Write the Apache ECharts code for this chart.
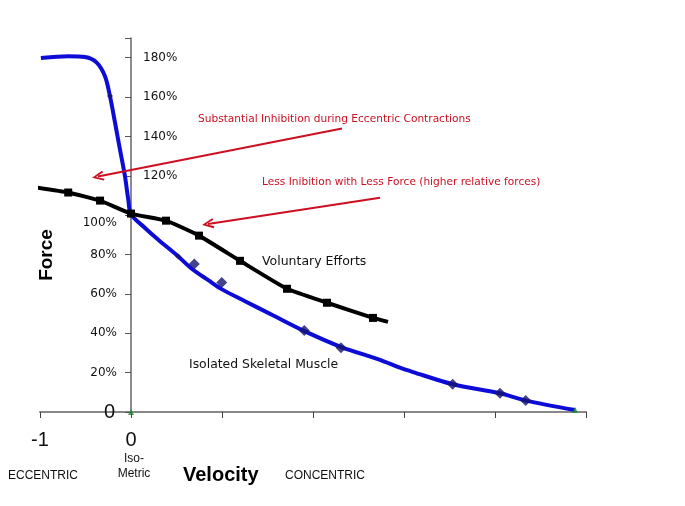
<!DOCTYPE html>
<html><head><meta charset="utf-8">
<script src="https://cdn.jsdelivr.net/npm/echarts@6/dist/echarts.min.js"></script>
<style>html,body{margin:0;padding:0;background:#fff}#c{width:685px;height:506px}</style>
</head><body><div id="c"></div>
<script>
// Isolated skeletal muscle (blue) curve: velocity (x), force % (y)
const muscleX = [-0.99,-0.69,-0.505,-0.377,-0.286,-0.231,-0.176,-0.121,-0.066,-0.030,0,0.154,0.30,0.52,0.667,0.849,1.0,1.253,1.564,1.9,2.31,2.736,2.956,3.099,3.535,4.055,4.337,4.88];
const muscleY = [179.8,180.7,180.3,177.5,170.6,160.5,147.1,133.3,119.7,107.9,100.5,93.5,87.5,79.0,72.8,67.0,62.3,56.3,49.0,41.2,33.0,26.5,22.5,20.3,14.1,9.5,5.8,1];
// Diamond markers on the muscle curve
const diamondX = [0.696,0.997,1.904,2.308,3.535,4.055,4.337];
const diamondY = [75.2,65.8,41.4,32.7,14.1,9.5,5.8];
// Small tick marks on the muscle curve
const smallX = [-0.231,0.52];
const smallY = [160.5,79.0];
// Voluntary efforts (black)
const volX = [-1.03,-0.69,-0.34,0,0.385,0.747,1.198,1.714,2.154,2.659,2.824];
const volY = [114.0,111.5,107.4,100.8,97.2,89.6,76.8,62.6,55.5,47.8,45.8];
// Green end marks
const greenX = [0,4.88];
const greenY = [0,1];
// Annotation arrows [tailX, tailY, headX, headY]
const arrow1 = [2.319,144.0,-0.363,119.6];
const arrow2 = [2.736,108.9,0.846,95.5];
// Axis tick labels
const yLeftTicks = {0:'{z|0}',20:'20%',40:'40%',60:'60%',80:'80%',100:'{h|100%}'};
const yRightTicks = {120:'120%',140:'140%',160:'160%',180:'180%'};
const xTicks = {'-1':'-1','0':'0'};

const zip = (a,b)=>a.map((v,i)=>[v,b[i]]);
const chart = echarts.init(document.getElementById('c'), null, {renderer:'canvas'});
const arrowHead = 'path://M5,0 L10,11 L8.3,12 L5,4 L1.7,12 L0,11 Z';
const red = '#cc1022';
const font = '"DejaVu Sans", Verdana, sans-serif';
const gridLeft = 40, gridRight = 99, W = 685;
const xMin = -1, xMax = 5;
const zeroShift = (0 - xMin) / (xMax - xMin) * (W - gridLeft - gridRight);
chart.setOption({
  animation:false,
  backgroundColor:'#fff',
  grid:{left:gridLeft,right:gridRight,top:38,bottom:94,containLabel:false,outerBoundsMode:'none'},
  xAxis:{type:'value',min:xMin,max:xMax,interval:1,
    axisLine:{onZero:true,lineStyle:{color:'#888',width:2}},
    axisTick:{show:true,length:6,lineStyle:{color:'#444',width:1}},
    splitLine:{show:false},
    axisLabel:{margin:18,fontSize:20,color:'#111',fontFamily:'Liberation Sans, Arial',
      formatter:v=>xTicks[String(v)]||''}},
  yAxis:[
    {type:'value',min:0,max:190,interval:20,position:'left',offset:-zeroShift,
      axisLine:{show:true,onZero:false,lineStyle:{color:'#666',width:1.5}},
      axisTick:{show:true,length:6,lineStyle:{color:'#555'}},
      splitLine:{show:false},
      axisLabel:{margin:14,fontSize:12,color:'#111',fontFamily:font,
        formatter:v=>yLeftTicks[v]||'',
        rich:{z:{fontSize:20,fontFamily:'Liberation Sans, Arial',color:'#111',padding:[0,2,0,0]},
              h:{fontSize:12,fontFamily:font,color:'#111',padding:[16,0,0,0]}}}},
    {type:'value',min:0,max:190,interval:20,position:'left',offset:-zeroShift,
      axisLine:{show:false,onZero:false},
      axisTick:{show:false},splitLine:{show:false},
      axisLabel:{inside:true,margin:12,fontSize:12,color:'#111',fontFamily:font,
        formatter:v=>yRightTicks[v]||''}}
  ],
  series:[
    {type:'line',data:zip(muscleX,muscleY),smooth:0.3,showSymbol:false,
      lineStyle:{color:'#0c0cd6',width:4},z:3},
    {type:'scatter',data:zip(diamondX,diamondY),symbol:'diamond',symbolSize:11,
      itemStyle:{color:'#15156e'},z:4},
    {type:'scatter',data:zip(smallX,smallY),symbol:'diamond',symbolSize:6,
      itemStyle:{color:'#15156e'},z:4},
    {type:'line',data:zip(volX,volY),smooth:0.15,symbol:'rect',
      symbolSize:(v,p)=>p.dataIndex===volX.length-1?0:8,
      itemStyle:{color:'#000'},lineStyle:{color:'#000',width:4},z:5},
    {type:'scatter',data:zip(greenX,greenY),symbol:'triangle',symbolSize:6,itemStyle:{color:'#1a8a2a'},z:6},
    {type:'scatter',data:[],markLine:{silent:true,symbol:[arrowHead,'none'],symbolSize:[10,12],
      label:{show:false},lineStyle:{color:red,width:2,type:'solid'},
      data:[
        [{coord:[arrow1[2],arrow1[3]]},{coord:[arrow1[0],arrow1[1]]}],
        [{coord:[arrow2[2],arrow2[3]]},{coord:[arrow2[0],arrow2[1]]}]
      ]}}
  ],
  graphic:[
    {type:'text',x:198,y:119,style:{text:'Substantial Inhibition during Eccentric Contractions',fill:red,font:'10.6px '+font,verticalAlign:'middle'}},
    {type:'text',x:262,y:182,style:{text:'Less Inibition with Less Force (higher relative forces)',fill:red,font:'10.6px '+font,verticalAlign:'middle'}},
    {type:'text',x:262,y:262,style:{text:'Voluntary Efforts',fill:'#111',font:'12.5px '+font,verticalAlign:'middle'}},
    {type:'text',x:189,y:365,style:{text:'Isolated Skeletal Muscle',fill:'#111',font:'12.4px '+font,verticalAlign:'middle'}},
    {type:'text',x:47,y:255,rotation:Math.PI/2,style:{text:'Force',fill:'#000',font:'bold 19px "Liberation Sans", Arial',align:'center',verticalAlign:'middle'}},
    {type:'text',x:183,y:475,style:{text:'Velocity',fill:'#000',font:'bold 20px "Liberation Sans", Arial',verticalAlign:'middle'}},
    {type:'text',x:8,y:476,style:{text:'ECCENTRIC',fill:'#111',font:'12px "Liberation Sans Narrow", "Liberation Sans", Arial',verticalAlign:'middle'}},
    {type:'text',x:134,y:466,style:{text:'Iso-\nMetric',fill:'#111',font:'12px "Liberation Sans", Arial',align:'center',verticalAlign:'middle',lineHeight:15}},
    {type:'text',x:285,y:476,style:{text:'CONCENTRIC',fill:'#111',font:'12px "Liberation Sans Narrow", "Liberation Sans", Arial',verticalAlign:'middle'}}
  ]
});
</script></body></html>
